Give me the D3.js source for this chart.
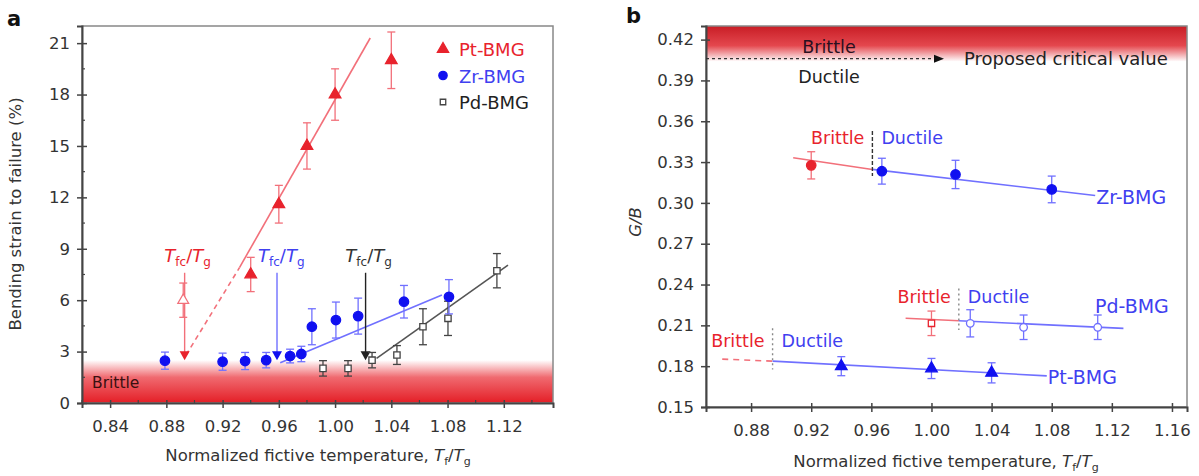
<!DOCTYPE html>
<html>
<head>
<meta charset="utf-8">
<script src="https://cdn.jsdelivr.net/npm/d3@7"></script>
<style>
  body { margin: 0; background: #fff; }
  svg { font-family: "DejaVu Sans", sans-serif; }
</style>
</head>
<body>
<div id="chart"></div>
<script>
// ---- panel a data: bending strain to failure (%) vs Tf/Tg
var ptX = [0.94, 0.96, 0.98, 1.00, 1.04];
var ptY = [7.5, 11.6, 15.0, 18.0, 20.0];
var ptErr = [1.0, 1.1, 1.35, 1.5, 1.65];
var ptOpenX = [0.892], ptOpenY = [6.0], ptOpenErr = [1.0];

var zrX = [0.879, 0.92, 0.936, 0.951, 0.968, 0.976, 0.9835, 1.0006, 1.0164, 1.049, 1.081];
var zrY = [2.47, 2.41, 2.45, 2.5, 2.74, 2.86, 4.45, 4.84, 5.07, 5.91, 6.2];
var zrErr = [0.5, 0.5, 0.5, 0.45, 0.4, 0.45, 1.05, 1.05, 1.05, 0.95, 1.0];

var pdX = [0.9914, 1.0092, 1.0263, 1.044, 1.0625, 1.0803, 1.1151];
var pdY = [2.02, 2.02, 2.5, 2.8, 4.45, 4.94, 7.72];
var pdErr = [0.45, 0.45, 0.45, 0.55, 1.05, 1.0, 1.0];

// fitted lines and T_fc arrows in panel a
var ptFitDash = [[0.894, 2.8], [0.932, 7.9]];
var ptFit = [[0.932, 7.9], [1.025, 21.3]];
var zrFit = [[0.961, 2.35], [1.076, 6.3]];
var pdFit = [[1.0295, 2.6], [1.123, 8.05]];
var tfcX = [0.893, 0.9587, 1.0217];   // red, blue, black arrows
var tfcTop = 7.6, tfcTip = 2.5;
var brittleTopA = 2.5;

var aXTicks = [0.84, 0.88, 0.92, 0.96, 1.00, 1.04, 1.08, 1.12];
var aYTicks = [0, 3, 6, 9, 12, 15, 18, 21];
var legendNames = ["Pt-BMG", "Zr-BMG", "Pd-BMG"];

// ---- panel b data: G/B vs Tf/Tg
var zrBrX = [0.92], zrBrY = [0.3276], zrBrErr = [0.01];
var zrBX = [0.967, 1.016, 1.08];
var zrBY = [0.3233, 0.3209, 0.3099];
var zrBErr = [0.0095, 0.0104, 0.0098];

var pdBrX = [1.0], pdBrY = [0.2115], pdBrErr = [0.009];
var pdBX = [1.0258, 1.0613, 1.1106];
var pdBY = [0.2115, 0.2086, 0.2086];
var pdBErr = [0.010, 0.009, 0.009];

var ptBX = [0.94, 1.0, 1.04];
var ptBY = [0.18, 0.1783, 0.1751];
var ptBErr = [0.007, 0.0074, 0.0074];

var zrBFitRed = [[0.908, 0.3332], [0.9607, 0.3246]];
var zrBFitBlue = [[0.9607, 0.3246], [1.1089, 0.3054]];
var pdBFitRed = [[0.9828, 0.2152], [1.0182, 0.2134]];
var pdBFitBlue = [[1.0182, 0.2134], [1.1277, 0.2078]];
var ptBFitRed = [[0.8608, 0.1852], [0.8943, 0.1837]];
var ptBFitBlue = [[0.8943, 0.1837], [1.0767, 0.1729]];
// vertical brittle/ductile dividers: x, y from, y to
var zrDiv = [0.9607, 0.3529, 0.3197];
var pdDiv = [1.0182, 0.237, 0.2066];
var ptDiv = [0.8943, 0.2078, 0.1776];
var criticalGB = 0.406;

var bXTicks = [0.88, 0.92, 0.96, 1.00, 1.04, 1.08, 1.12, 1.16];
var bYTicks = [0.15, 0.18, 0.21, 0.24, 0.27, 0.30, 0.33, 0.36, 0.39, 0.42];

// colours
var RED = "#e8232d", REDL = "#f2707a", BLUE = "#1010f0", BLUEL = "#7070ff",
    BLUET = "#4040f0", DARK = "#333";

var svg = d3.select("#chart").append("svg")
    .attr("width", 1199).attr("height", 476);

var defs = svg.append("defs");
var gA = defs.append("linearGradient").attr("id", "brA")
    .attr("x1", 0).attr("y1", 0).attr("x2", 0).attr("y2", 1);
gA.append("stop").attr("offset", "0%").attr("stop-color", "#fff");
gA.append("stop").attr("offset", "40%").attr("stop-color", "#f06a70");
gA.append("stop").attr("offset", "100%").attr("stop-color", "#e41e26");
var gB = defs.append("linearGradient").attr("id", "brB")
    .attr("x1", 0).attr("y1", 0).attr("x2", 0).attr("y2", 1);
gB.append("stop").attr("offset", "0%").attr("stop-color", "#c81d25");
gB.append("stop").attr("offset", "55%").attr("stop-color", "#e4474e");
gB.append("stop").attr("offset", "100%").attr("stop-color", "#fff");

// helpers
function zip(xs, ys, es) {
  return xs.map(function(x, i) { return {x: x, y: ys[i], e: es[i]}; });
}

function errorBars(g, x, y, data, color, cap) {
  var eb = g.append("g").attr("stroke", color).attr("stroke-width", 1.3);
  data.forEach(function(d) {
    eb.append("line").attr("x1", x(d.x)).attr("x2", x(d.x))
      .attr("y1", y(d.y - d.e)).attr("y2", y(d.y + d.e));
    [d.y - d.e, d.y + d.e].forEach(function(v) {
      eb.append("line").attr("x1", x(d.x) - cap).attr("x2", x(d.x) + cap)
        .attr("y1", y(v)).attr("y2", y(v));
    });
  });
}

function markers(g, x, y, data, type, size, fill, stroke) {
  g.append("g").selectAll("path").data(data).enter().append("path")
    .attr("transform", function(d) { return "translate(" + x(d.x) + "," + y(d.y) + ")"; })
    .attr("d", d3.symbol().type(type).size(size))
    .attr("fill", fill).attr("stroke", stroke).attr("stroke-width", 1.3);
}

function seg(g, x, y, pts, color, width, dash) {
  g.append("path")
    .attr("d", d3.line().x(function(d) { return x(d[0]); }).y(function(d) { return y(d[1]); })(pts))
    .attr("fill", "none").attr("stroke", color).attr("stroke-width", width)
    .attr("stroke-dasharray", dash || null);
}

function tfgLabel(g, xPos, yPos, color, sub, anchor) {
  var t = g.append("text").attr("x", xPos).attr("y", yPos)
    .attr("fill", color).attr("font-size", 18).attr("text-anchor", anchor || "start");
  t.append("tspan").attr("font-style", "italic").text("T");
  t.append("tspan").attr("font-size", 12).attr("dy", 4).text(sub);
  t.append("tspan").attr("dy", -4).text("/");
  t.append("tspan").attr("font-style", "italic").text("T");
  t.append("tspan").attr("font-size", 12).attr("dy", 4).text("g");
  return t;
}

function xTitle(g, cx, yPos) {
  var t = g.append("text").attr("x", cx).attr("y", yPos)
    .attr("text-anchor", "middle").attr("font-size", 16.5).attr("fill", DARK);
  t.append("tspan").text("Normalized fictive temperature, ");
  t.append("tspan").attr("font-style", "italic").text("T");
  t.append("tspan").attr("font-size", 11).attr("dy", 4).text("f");
  t.append("tspan").attr("dy", -4).text("/");
  t.append("tspan").attr("font-style", "italic").text("T");
  t.append("tspan").attr("font-size", 11).attr("dy", 4).text("g");
}

function styleAxis(ax) {
  ax.select(".domain").attr("stroke", "#444").attr("stroke-width", 2);
  ax.selectAll(".tick line").attr("stroke", "#444").attr("stroke-width", 1.5);
  ax.selectAll("text").attr("font-size", 16.5).attr("fill", DARK)
    .attr("font-family", "DejaVu Sans, sans-serif");
}

// ================= panel a =================
var aL = 82, aR = 553, aT = 26, aB = 403;
var xa = d3.scaleLinear().domain([0.82, 1.155]).range([aL, aR]);
var ya = d3.scaleLinear().domain([0, 22]).range([aB, aT]);
var pa = svg.append("g");

pa.append("rect").attr("x", aL).attr("y", ya(brittleTopA))
  .attr("width", aR - aL).attr("height", aB - ya(brittleTopA))
  .attr("fill", "url(#brA)");
pa.append("text").attr("x", aL + 10).attr("y", ya(0.85)).attr("font-size", 15.5)
  .attr("fill", "#3a1010").text("Brittle");

// frame
pa.append("rect").attr("x", aL).attr("y", aT).attr("width", aR - aL).attr("height", aB - aT)
  .attr("fill", "none").attr("stroke", "#888").attr("stroke-width", 1.5);

// axes
var axA = pa.append("g").attr("transform", "translate(0," + aB + ")")
  .call(d3.axisBottom(xa).tickValues(aXTicks).tickFormat(d3.format(".2f")).tickSize(5).tickPadding(12));
axA.selectAll(".tick line").attr("y1", -3);
var ayA = pa.append("g").attr("transform", "translate(" + aL + ",0)")
  .call(d3.axisLeft(ya).tickValues(aYTicks).tickSize(5).tickPadding(7));
ayA.selectAll(".tick line").attr("x1", 5);
styleAxis(axA);
styleAxis(ayA);
// minor ticks
pa.append("g").selectAll("line").data(d3.range(0.82, 1.15, 0.04)).enter().append("line")
  .attr("x1", function(d) { return xa(d); }).attr("x2", function(d) { return xa(d); })
  .attr("y1", aB).attr("y2", aB - 3).attr("stroke", "#444").attr("stroke-width", 1.2);
pa.append("g").selectAll("line").data(d3.range(1.5, 22, 3)).enter().append("line")
  .attr("x1", aL).attr("x2", aL + 3)
  .attr("y1", function(d) { return ya(d); }).attr("y2", function(d) { return ya(d); })
  .attr("stroke", "#444").attr("stroke-width", 1.2);

// fit lines
seg(pa, xa, ya, ptFitDash, REDL, 1.6, "5,4");
seg(pa, xa, ya, ptFit, REDL, 1.6);
seg(pa, xa, ya, zrFit, BLUEL, 1.6);
seg(pa, xa, ya, pdFit, "#555", 1.6);

// T_fc arrows
var arrowCols = [RED, BLUEL, "#222"];
tfcX.forEach(function(v, i) {
  pa.append("line").attr("x1", xa(v)).attr("x2", xa(v))
    .attr("y1", ya(tfcTop)).attr("y2", ya(tfcTip) - 8)
    .attr("stroke", i === 0 ? REDL : arrowCols[i]).attr("stroke-width", 1.4);
  pa.append("path")
    .attr("d", "M" + (xa(v) - 5) + "," + (ya(tfcTip) - 9) + "L" + (xa(v) + 5) + "," + (ya(tfcTip) - 9)
      + "L" + xa(v) + "," + ya(tfcTip) + "Z")
    .attr("fill", i === 1 ? BLUE : arrowCols[i]);
});
tfgLabel(pa, xa(tfcX[0]) + 3, 262, RED, "fc", "middle");
tfgLabel(pa, xa(tfcX[1]) - 19, 262, BLUET, "fc", "start");
tfgLabel(pa, xa(tfcX[2]) + 3, 262, "#333", "fc", "middle");

// data
var ptData = zip(ptX, ptY, ptErr), zrData = zip(zrX, zrY, zrErr), pdData = zip(pdX, pdY, pdErr);
var ptOpen = zip(ptOpenX, ptOpenY, ptOpenErr);
errorBars(pa, xa, ya, ptOpen, REDL, 4);
markers(pa, xa, ya, ptOpen, d3.symbolTriangle, 50, "#fff", REDL);
errorBars(pa, xa, ya, pdData, "#444", 4);
markers(pa, xa, ya, pdData, d3.symbolSquare, 40, "#fff", "#444");
errorBars(pa, xa, ya, zrData, BLUEL, 4);
markers(pa, xa, ya, zrData, d3.symbolCircle, 70, BLUE, BLUE);
errorBars(pa, xa, ya, ptData, REDL, 4);
markers(pa, xa, ya, ptData, d3.symbolTriangle, 58, RED, RED);

// legend
var legSym = [d3.symbolTriangle, d3.symbolCircle, d3.symbolSquare];
var legFill = [RED, BLUE, "#fff"], legStroke = [RED, BLUE, "#444"], legText = [RED, BLUET, "#222"];
legendNames.forEach(function(n, i) {
  var yy = 49 + i * 26.5;
  pa.append("path").attr("transform", "translate(443," + yy + ")")
    .attr("d", d3.symbol().type(legSym[i]).size(i === 2 ? 30 : 55))
    .attr("fill", legFill[i]).attr("stroke", legStroke[i]).attr("stroke-width", 1.3);
  pa.append("text").attr("x", 459).attr("y", yy + 7).attr("font-size", 18)
    .attr("fill", legText[i]).text(n);
});

// axis titles
pa.append("text").attr("transform", "translate(21," + 214 + ") rotate(-90)")
  .attr("text-anchor", "middle").attr("font-size", 16.5).attr("fill", DARK)
  .text("Bending strain to failure (%)");
xTitle(pa, 318, 461);
pa.append("text").attr("x", 7).attr("y", 26).attr("font-size", 21).attr("font-weight", "bold")
  .attr("fill", "#111").text("a");

// ================= panel b =================
var bL = 706, bR = 1187, bT = 26, bB = 407;
var xb = d3.scaleLinear().domain([0.85, 1.17]).range([bL, bR]);
var yb = d3.scaleLinear().domain([0.15, 0.43]).range([bB, bT]);
var pb = svg.append("g");

pb.append("rect").attr("x", bL).attr("y", bT).attr("width", bR - bL)
  .attr("height", yb(criticalGB) + 3 - bT).attr("fill", "url(#brB)");
pb.append("rect").attr("x", bL).attr("y", bT).attr("width", bR - bL).attr("height", bB - bT)
  .attr("fill", "none").attr("stroke", "#888").attr("stroke-width", 1.5);

var axB = pb.append("g").attr("transform", "translate(0," + bB + ")")
  .call(d3.axisBottom(xb).tickValues(bXTicks).tickFormat(d3.format(".2f")).tickSize(5).tickPadding(12));
axB.selectAll(".tick line").attr("y1", -4);
var ayB = pb.append("g").attr("transform", "translate(" + bL + ",0)")
  .call(d3.axisLeft(yb).tickValues(bYTicks).tickFormat(d3.format(".2f")).tickSize(5).tickPadding(7));
ayB.selectAll(".tick line").attr("x1", 4);
styleAxis(axB);
styleAxis(ayB);

// critical value line + labels
pb.append("line").attr("x1", bL).attr("x2", 936)
  .attr("y1", yb(criticalGB)).attr("y2", yb(criticalGB))
  .attr("stroke", "#333").attr("stroke-width", 1.3).attr("stroke-dasharray", "3,3");
pb.append("path").attr("d", "M934," + (yb(criticalGB) - 4) + "L944," + yb(criticalGB)
  + "L934," + (yb(criticalGB) + 4) + "Z").attr("fill", "#111");
pb.append("text").attr("x", 964).attr("y", yb(criticalGB) + 6).attr("font-size", 18)
  .attr("fill", "#222").text("Proposed critical value");
pb.append("text").attr("x", 829).attr("y", yb(criticalGB) - 6).attr("text-anchor", "middle")
  .attr("font-size", 17.5).attr("fill", "#2a1020").text("Brittle");
pb.append("text").attr("x", 829).attr("y", yb(criticalGB) + 24).attr("text-anchor", "middle")
  .attr("font-size", 17.5).attr("fill", "#222").text("Ductile");

// fit lines
seg(pb, xb, yb, zrBFitRed, REDL, 1.6);
seg(pb, xb, yb, zrBFitBlue, BLUEL, 1.6);
seg(pb, xb, yb, pdBFitRed, REDL, 1.6);
seg(pb, xb, yb, pdBFitBlue, BLUEL, 1.6);
seg(pb, xb, yb, ptBFitRed, REDL, 1.6, "6,5");
seg(pb, xb, yb, ptBFitBlue, BLUEL, 1.6);

[zrDiv, pdDiv, ptDiv].forEach(function(d, i) {
  pb.append("line").attr("x1", xb(d[0])).attr("x2", xb(d[0]))
    .attr("y1", yb(d[1])).attr("y2", yb(d[2]))
    .attr("stroke", i === 0 ? "#333" : "#888").attr("stroke-width", 1.4)
    .attr("stroke-dasharray", i === 0 ? "4,2" : "2,3");
});

// data
var zrBr = zip(zrBrX, zrBrY, zrBrErr), zrBd = zip(zrBX, zrBY, zrBErr);
var pdBr = zip(pdBrX, pdBrY, pdBrErr), pdBd = zip(pdBX, pdBY, pdBErr);
var ptBd = zip(ptBX, ptBY, ptBErr);
errorBars(pb, xb, yb, zrBr, REDL, 4);
markers(pb, xb, yb, zrBr, d3.symbolCircle, 70, RED, RED);
errorBars(pb, xb, yb, zrBd, BLUEL, 4);
markers(pb, xb, yb, zrBd, d3.symbolCircle, 70, BLUE, BLUE);
errorBars(pb, xb, yb, pdBr, REDL, 4);
markers(pb, xb, yb, pdBr, d3.symbolSquare, 40, "#fff", RED);
errorBars(pb, xb, yb, pdBd, BLUEL, 4);
markers(pb, xb, yb, pdBd, d3.symbolCircle, 45, "#fff", BLUEL);
errorBars(pb, xb, yb, ptBd, BLUEL, 4);
markers(pb, xb, yb, ptBd, d3.symbolTriangle, 58, BLUE, BLUE);

// brittle/ductile labels
function bdLabels(xDiv, yBase) {
  pb.append("text").attr("x", xb(xDiv) - 8).attr("y", yBase).attr("text-anchor", "end")
    .attr("font-size", 17.5).attr("fill", RED).text("Brittle");
  pb.append("text").attr("x", xb(xDiv) + 9).attr("y", yBase)
    .attr("font-size", 17.5).attr("fill", BLUET).text("Ductile");
}
bdLabels(zrDiv[0], 144);
bdLabels(pdDiv[0], 303);
bdLabels(ptDiv[0], 347);
pb.append("text").attr("x", xb(zrBFitBlue[1][0]) + 1).attr("y", yb(zrBFitBlue[1][1]) + 8)
  .attr("font-size", 19).attr("fill", BLUET).text("Zr-BMG");
pb.append("text").attr("x", 1095).attr("y", 313).attr("font-size", 19)
  .attr("fill", BLUET).text("Pd-BMG");
pb.append("text").attr("x", xb(ptBFitBlue[1][0]) + 1).attr("y", yb(ptBFitBlue[1][1]) + 8)
  .attr("font-size", 19).attr("fill", BLUET).text("Pt-BMG");

// axis titles
pb.append("text").attr("transform", "translate(641,222) rotate(-90)")
  .attr("text-anchor", "middle").attr("font-size", 16.5).attr("font-style", "italic")
  .attr("fill", DARK).text("G/B");
xTitle(pb, 946, 467);
pb.append("text").attr("x", 626).attr("y", 23).attr("font-size", 21).attr("font-weight", "bold")
  .attr("fill", "#111").text("b");
</script>
</body>
</html>
